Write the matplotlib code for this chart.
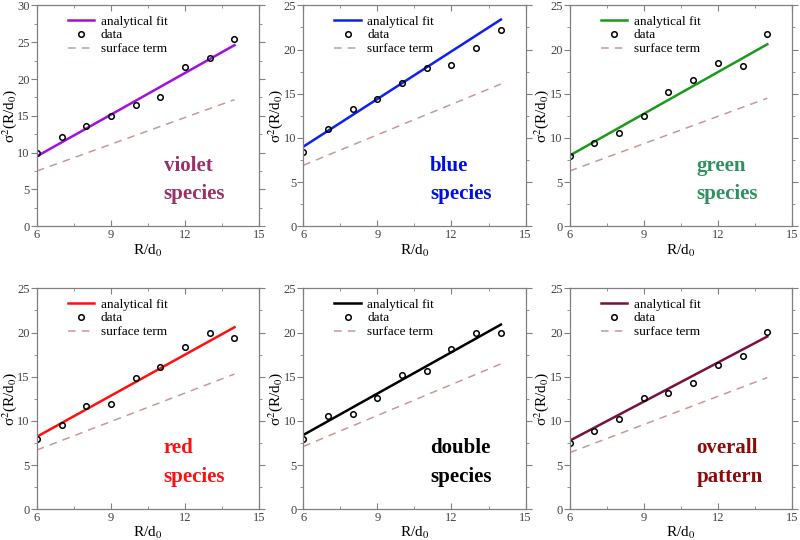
import matplotlib
matplotlib.use("Agg")
import matplotlib.pyplot as plt
from matplotlib.ticker import MultipleLocator

plt.rcParams['font.family'] = ['Liberation Serif', 'DejaVu Serif']
plt.rcParams['mathtext.fontset'] = 'stix'

# data
R = [6, 7, 8, 9, 10, 11, 12, 13, 14]
violet_data = [9.9, 12.1, 13.6, 15.0, 16.5, 17.5, 21.7, 22.8, 25.5]
blue_data = [8.4, 11.0, 13.3, 14.4, 16.2, 17.9, 18.3, 20.2, 22.2]
green_data = [8.0, 9.45, 10.5, 12.5, 15.2, 16.5, 18.5, 18.1, 21.8]
red_data = [8.0, 9.5, 11.7, 11.9, 14.8, 16.1, 18.4, 20.0, 19.4]
double_data = [7.9, 10.5, 10.8, 12.6, 15.2, 15.6, 18.1, 20.0, 20.0]
overall_data = [7.55, 8.8, 10.2, 12.55, 13.1, 14.3, 16.3, 17.3, 20.1]

R_ends = [6, 14]
violet_fit = [9.5, 24.6]
blue_fit = [9.0, 23.4]
green_fit = [8.0, 20.6]
red_fit = [8.2, 20.6]
double_fit = [8.4, 20.9]
overall_fit = [7.75, 19.55]

violet_surf = [7.5, 17.2]
blue_surf = [6.9, 16.1]
green_surf = [6.25, 14.5]
red_surf = [6.7, 15.3]
double_surf = [7.1, 16.45]
overall_surf = [6.4, 14.9]

names = [('violet', 'species'), ('blue', 'species'), ('green', 'species'),
         ('red', 'species'), ('double', 'species'), ('overall', 'pattern')]
ymax = [30, 25, 25, 25, 25, 25]
line_colors = ['#a010e0', '#1020f0', '#1a9a1a', '#ff1010', '#000000', '#7a1040']
text_colors = ['#9a3068', '#0010e0', '#2e9060', '#ff1010', '#000000', '#8b0a0a']

datas = [violet_data, blue_data, green_data, red_data, double_data, overall_data]
fits = [violet_fit, blue_fit, green_fit, red_fit, double_fit, overall_fit]
surfs = [violet_surf, blue_surf, green_surf, red_surf, double_surf, overall_surf]

fig = plt.figure(figsize=(8, 5.4), dpi=100)
lefts = [0.046, 0.379, 0.712]
bottoms = [0.581, 0.057]
spine_col = '#808080'

for i in range(6):
    ax = fig.add_axes([lefts[i % 3], bottoms[i // 3], 0.278, 0.409])
    ax.plot(R_ends, fits[i], color=line_colors[i], lw=1.8, label='analytical fit')
    ax.plot(R, datas[i], 'o', mfc='none', mec='black', ms=4, mew=1.1, label='data')
    ax.plot(R_ends, surfs[i], '--', color='#c89898', lw=1.1, dashes=(5, 4), label='surface term')
    ax.set_xlim(6, 15)
    ax.set_ylim(0, ymax[i])
    ax.xaxis.set_major_locator(MultipleLocator(3))
    ax.xaxis.set_minor_locator(MultipleLocator(1.5))
    ax.yaxis.set_major_locator(MultipleLocator(5))
    ax.yaxis.set_minor_locator(MultipleLocator(2.5))
    ax.tick_params(which='both', direction='in', top=True, right=True,
                   labelsize=9, colors=spine_col, labelcolor='#444444', pad=2)
    ax.tick_params(axis='y', which='both', left=True, direction='out', pad=1)
    ax.tick_params(which='major', length=4)
    ax.tick_params(which='minor', length=2)
    for s in ax.spines.values():
        s.set_color(spine_col)
        s.set_linewidth(0.9)
    ax.set_xlabel(r'R/d$_0$', fontsize=11, labelpad=1)
    ax.set_ylabel(r'σ$^2$(R/d$_0$)', fontsize=11)
    ax.yaxis.set_label_coords(-0.082, 0.5)
    ax.legend(loc='upper left', bbox_to_anchor=(0.14, 0.955), frameon=False,
              fontsize=9.5, handlelength=2.0, handletextpad=0.5,
              labelspacing=0.12, borderaxespad=0, borderpad=0)
    ax.text(0.57, 0.275, names[i][0], transform=ax.transAxes, fontsize=15,
            fontweight='bold', color=text_colors[i], va='center')
    ax.text(0.57, 0.145, names[i][1], transform=ax.transAxes, fontsize=15,
            fontweight='bold', color=text_colors[i], va='center')

fig.savefig('out.png', dpi=100)
